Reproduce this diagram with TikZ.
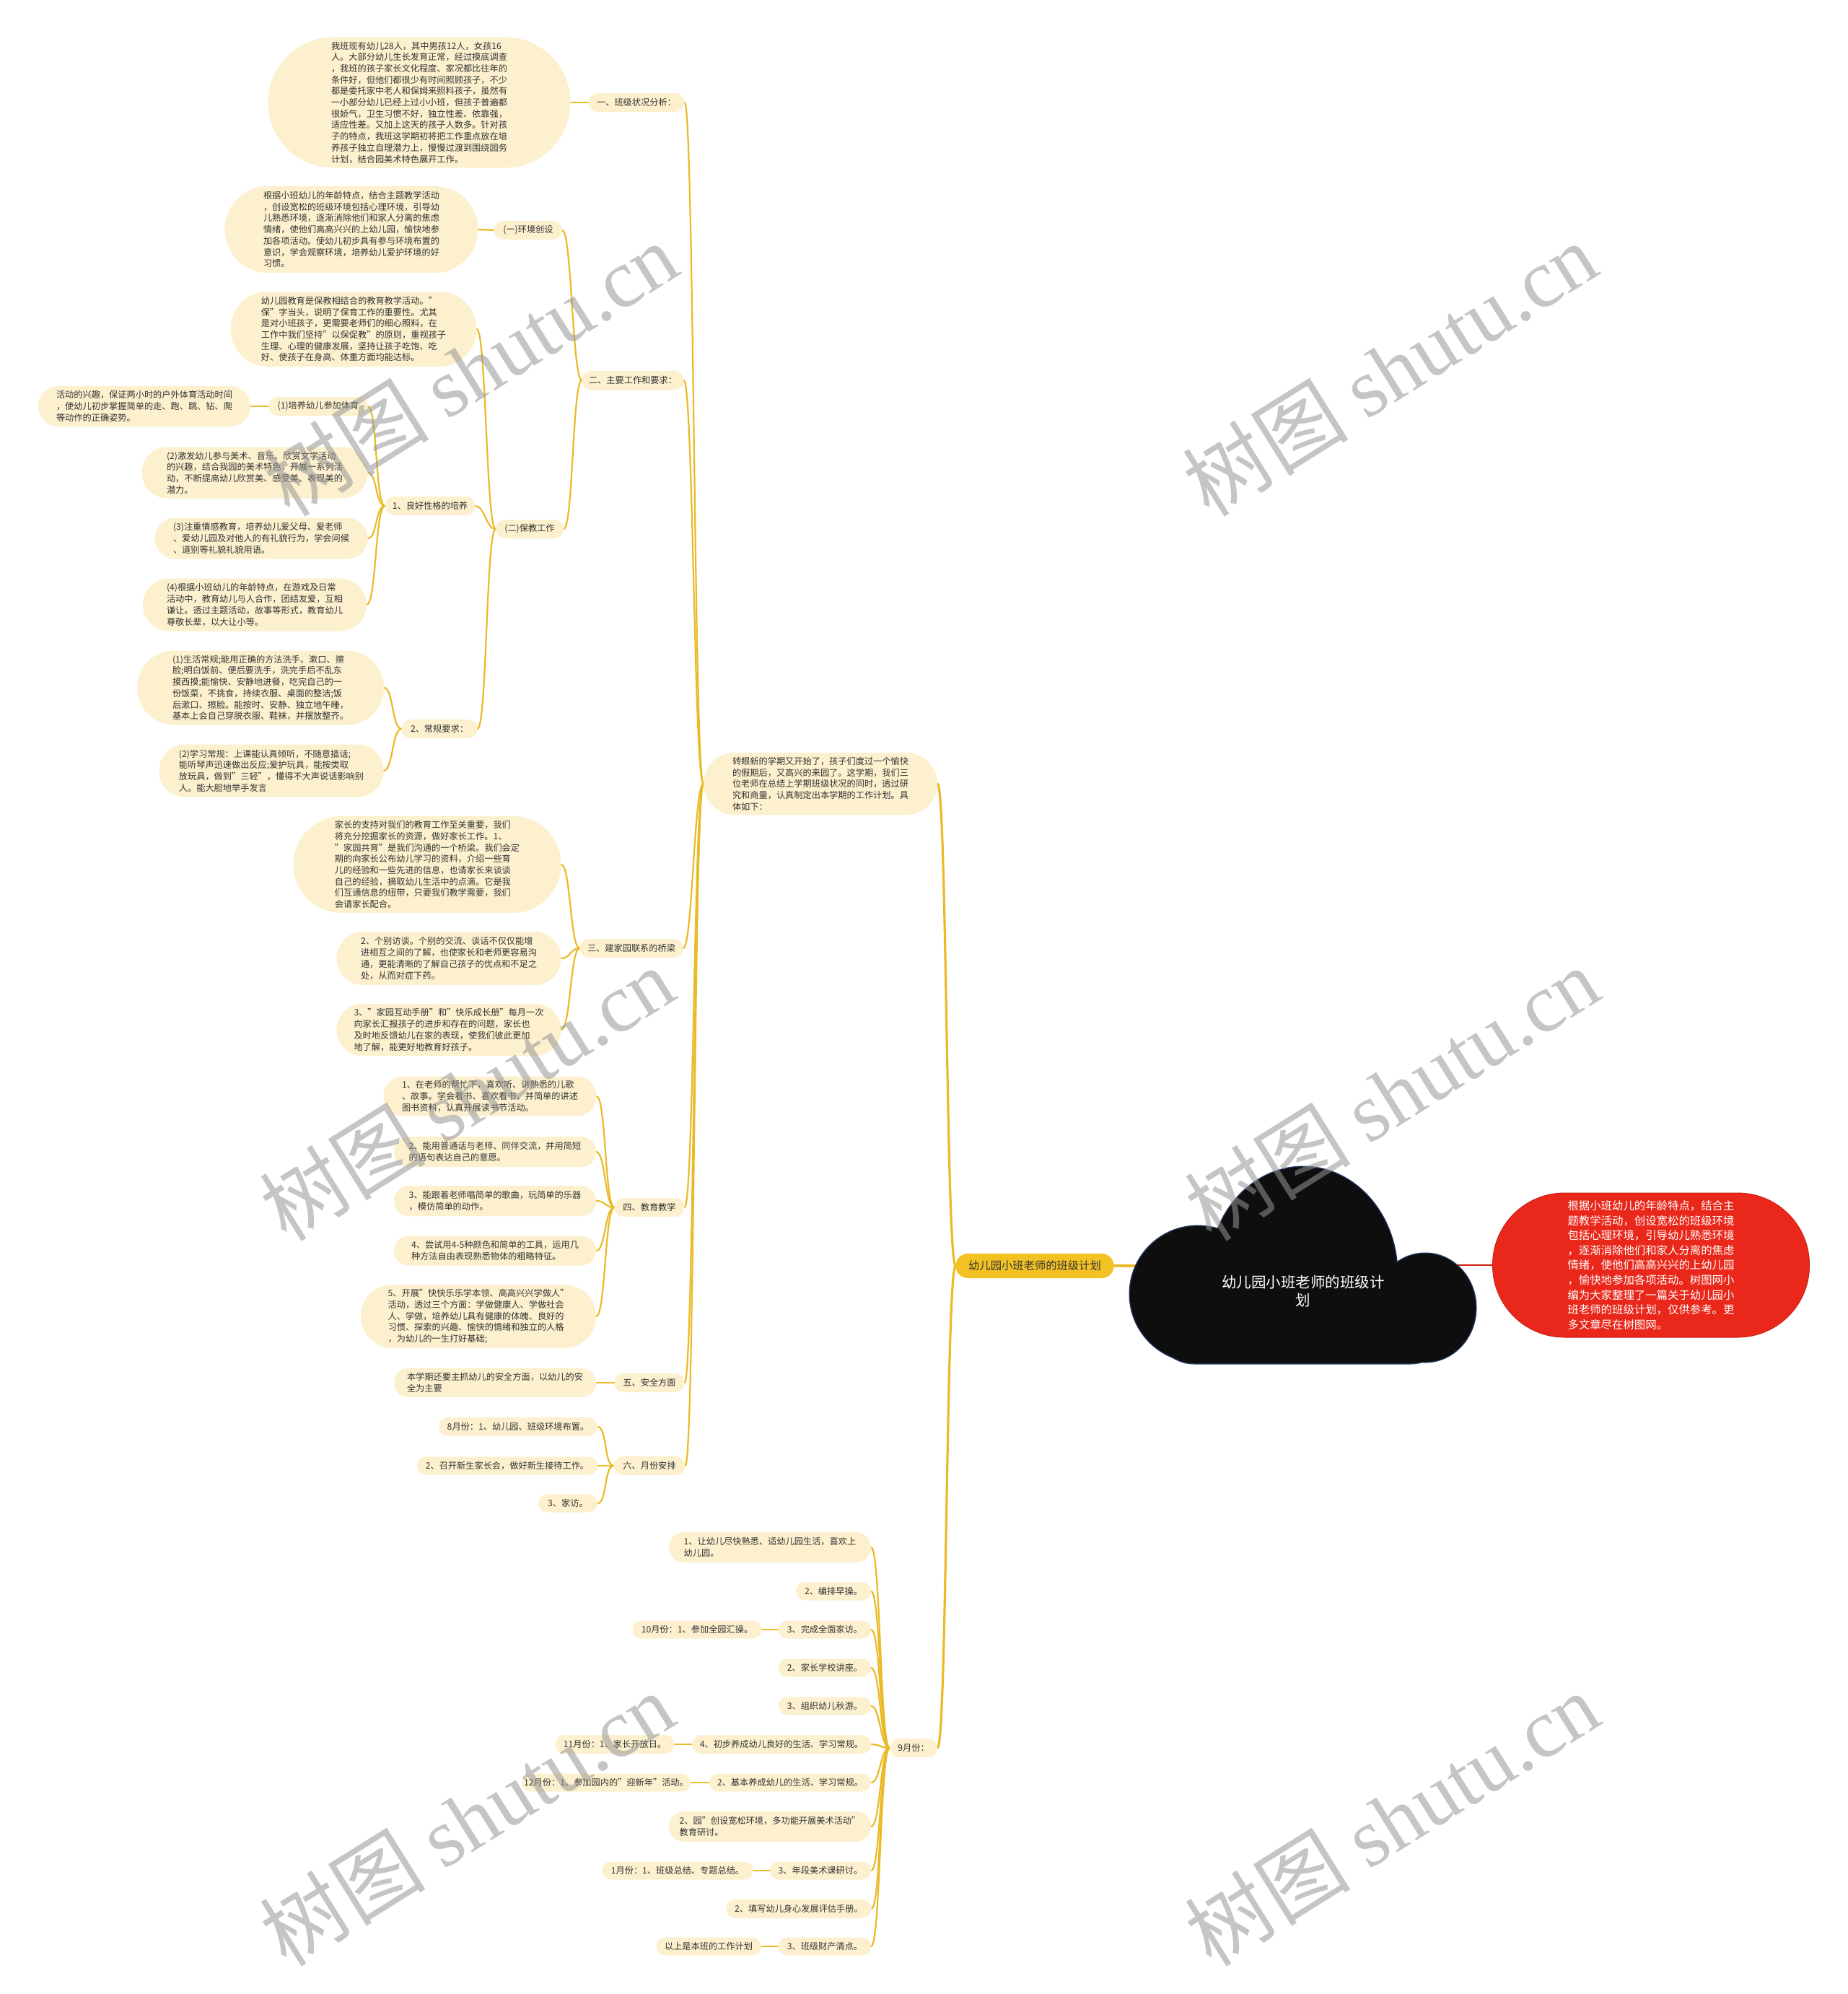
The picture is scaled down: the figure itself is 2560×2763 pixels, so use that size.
\documentclass[tikz,border=0pt]{standalone}
\usepackage{fontspec}
\setmainfont{Noto Sans CJK SC}
\newfontfamily\wmlatin{Liberation Serif}
\usetikzlibrary{calc}
\pgfdeclarelayer{bg}
\pgfsetlayers{bg,main}
\definecolor{cream}{RGB}{252,240,206}
\definecolor{gold}{RGB}{234,186,40}
\definecolor{maingold}{RGB}{242,193,36}
\definecolor{txt}{RGB}{51,51,51}
\definecolor{redn}{RGB}{233,40,27}
\definecolor{reddark}{RGB}{205,32,22}
\definecolor{cloudc}{RGB}{14,14,14}
\definecolor{cloudedge}{RGB}{30,52,92}
\definecolor{wmc}{RGB}{150,150,150}
\tikzset{
  pill/.style 2 args={rectangle, fill=cream, text=txt, minimum width=#1, minimum height=#2,
     rounded corners=#2/2-0.3, inner sep=0pt, align=left, font=\fontsize{12.2}{15.7}\selectfont},
  link/.style={draw=gold, line width=2.2pt, line cap=round},
  trunk/.style={draw=gold, line width=3.2pt, line cap=round},
  wmark/.style={text=wmc, opacity=0.55, inner sep=0pt, font=\fontsize{115}{120}\selectfont},
}
\newcommand\curv[3][link]{\draw[#1] (#2.west) .. controls +(-13,0) and +(13,0) .. (#3.east);}
\newcommand\strt[2]{\draw[link] (#1.west) -- (#2.east);}
\newcommand\cloudshape[1]{%
  \path[#1] (1676,1885) -- (1676,1765) arc[start angle=180, end angle=360, x radius=130, y radius=148] -- (1936,1885) -- cycle;
  \path[#1] (1660,1793) circle[radius=94];
  \path[#1] (1975,1812) ellipse[x radius=70, y radius=75];
  \path[#1, rounded corners=55] (1600,1770) rectangle (2010,1889);
}
\begin{document}
\begin{tikzpicture}[x=1pt,y=-1pt]
\begin{pgfonlayer}{bg}
\fill[white] (0,0) rectangle (2560,2763);
\end{pgfonlayer}
\useasboundingbox (0,0) rectangle (2560,2763);

% ---------- main / root / red ----------
\node[pill={219}{34}, fill=maingold, font=\fontsize{15.3}{18}\selectfont] (main) at (1434,1754) {幼儿园小班老师的班级计划};
\coordinate (cloudin) at (1610,1754);
\coordinate (cloudout) at (2000,1753);
\node[rectangle, fill=redn, draw=reddark, line width=1pt, minimum width=439, minimum height=200,
      rounded corners=99.5, inner sep=0pt, text=white, align=left,
      font=\fontsize{15.4}{20.6}\selectfont] (red) at (2288,1753)
 {根据小班幼儿的年龄特点，结合主\\题教学活动，创设宽松的班级环境\\包括心理环境，引导幼儿熟悉环境\\，逐渐消除他们和家人分离的焦虑\\情绪，使他们高高兴兴的上幼儿园\\，愉快地参加各项活动。树图网小\\编为大家整理了一篇关于幼儿园小\\班老师的班级计划，仅供参考。更\\多文章尽在树图网。};

% ---------- intro ----------
\node[pill={324}{86}] (intro) at (1137,1086) {转眼新的学期又开始了，孩子们度过一个愉快\\的假期后，又高兴的来园了。这学期，我们三\\位老师在总结上学期班级状况的同时，透过研\\究和商量，认真制定出本学期的工作计划。具\\体如下：};

% ---------- section 1 ----------
\node[pill={133}{26}] (s1) at (882,142) {一、班级状况分析：};
\node[pill={419}{181}] (s1p) at (581,142) {我班现有幼儿28人，其中男孩12人，女孩16\\人。大部分幼儿生长发育正常，经过摸底调查\\，我班的孩子家长文化程度、家况都比往年的\\条件好，但他们都很少有时间照顾孩子，不少\\都是委托家中老人和保姆来照料孩子，虽然有\\一小部分幼儿已经上过小小班，但孩子普遍都\\很娇气，卫生习惯不好，独立性差、依靠强，\\适应性差。又加上这天的孩子人数多。针对孩\\子的特点，我班这学期初将把工作重点放在培\\养孩子独立自理潜力上，慢慢过渡到围绕园务\\计划，结合园美术特色展开工作。};

% ---------- section 2 ----------
\node[pill={141}{27}] (s2) at (877,527) {二、主要工作和要求：};
\node[pill={94}{26}] (env) at (732,319) {(一)环境创设};
\node[pill={351}{120}] (envp) at (487,318) {根据小班幼儿的年龄特点，结合主题教学活动\\，创设宽松的班级环境包括心理环境，引导幼\\儿熟悉环境，逐渐消除他们和家人分离的焦虑\\情绪，使他们高高兴兴的上幼儿园，愉快地参\\加各项活动。使幼儿初步具有参与环境布置的\\意识，学会观察环境，培养幼儿爱护环境的好\\习惯。};
\node[pill={94}{26}] (bj) at (734,733) {(二)保教工作};
\node[pill={341}{104}] (bjp) at (490,456) {幼儿园教育是保教相结合的教育教学活动。"\\保"字当头，说明了保育工作的重要性。尤其\\是对小班孩子，更需要老师们的细心照料，在\\工作中我们坚持"以保促教"的原则，重视孩子\\生理、心理的健康发展，坚持让孩子吃饱、吃\\好、使孩子在身高、体重方面均能达标。};
\node[pill={125}{26}] (xg) at (596,701) {1、良好性格的培养};
\node[pill={137}{26}] (ty) at (441,563) {(1)培养幼儿参加体育};
\node[pill={294}{56}] (typ) at (200,563) {活动的兴趣，保证两小时的户外体育活动时间\\，使幼儿初步掌握简单的走、跑、跳、钻、爬\\等动作的正确姿势。};
\node[pill={313}{71}] (x2) at (353,655) {(2)激发幼儿参与美术、音乐、欣赏文学活动\\的兴趣，结合我园的美术特色，开展一系列活\\动，不断提高幼儿欣赏美、感受美、表现美的\\潜力。};
\node[pill={295}{57}] (x3) at (362,746) {(3)注重情感教育，培养幼儿爱父母、爱老师\\、爱幼儿园及对他人的有礼貌行为，学会问候\\、道别等礼貌礼貌用语。};
\node[pill={310}{73}] (x4) at (353,838) {(4)根据小班幼儿的年龄特点，在游戏及日常\\活动中，教育幼儿与人合作，团结友爱，互相\\谦让。透过主题活动，故事等形式，教育幼儿\\尊敬长辈，以大让小等。};
\node[pill={105}{26}] (cg) at (609,1010) {2、常规要求：};
\node[pill={342}{103}] (c1) at (361,953) {(1)生活常规;能用正确的方法洗手、漱口、擦\\脸;明白饭前、便后要洗手，洗完手后不乱东\\摸西摸;能愉快、安静地进餐，吃完自己的一\\份饭菜，不挑食，持续衣服、桌面的整洁;饭\\后漱口、擦脸。能按时、安静、独立地午睡，\\基本上会自己穿脱衣服、鞋袜，并摆放整齐。};
\node[pill={311}{73}] (c2) at (376,1068) {(2)学习常规：上课能认真倾听，不随意插话;\\能听琴声迅速做出反应;爱护玩具，能按类取\\放玩具，做到"三轻"，懂得不大声说话影响别\\人。能大胆地举手发言};

% ---------- section 3 ----------
\node[pill={143}{26}] (s3) at (875,1314) {三、建家园联系的桥梁};
\node[pill={371}{134}] (h1) at (592,1198) {家长的支持对我们的教育工作至关重要，我们\\将充分挖掘家长的资源，做好家长工作。1、\\"家园共育"是我们沟通的一个桥梁。我们会定\\期的向家长公布幼儿学习的资料，介绍一些育\\儿的经验和一些先进的信息，也请家长来谈谈\\自己的经验，摘取幼儿生活中的点滴。它是我\\们互通信息的纽带，只要我们教学需要，我们\\会请家长配合。};
\node[pill={311}{74}] (h2) at (622,1328) {2、个别访谈。个别的交流、谈话不仅仅能增\\进相互之间的了解，也使家长和老师更容易沟\\通，更能清晰的了解自己孩子的优点和不足之\\处，从而对症下药。};
\node[pill={311}{72}] (h3) at (622,1427) {3、"家园互动手册"和"快乐成长册"每月一次\\向家长汇报孩子的进步和存在的问题，家长也\\及时地反馈幼儿在家的表现，使我们彼此更加\\地了解，能更好地教育好孩子。};

% ---------- section 4 ----------
\node[pill={97}{26}] (s4) at (900,1673) {四、教育教学};
\node[pill={295}{55}] (e1) at (679,1519) {1、在老师的帮忙下，喜欢听、讲熟悉的儿歌\\、故事。学会看书、喜欢看书，并简单的讲述\\图书资料，认真开展读书节活动。};
\node[pill={280}{42}] (e2) at (686,1596) {2、能用普通话与老师、同伴交流，并用简短\\的语句表达自己的意愿。};
\node[pill={280}{42}] (e3) at (686,1664) {3、能跟着老师唱简单的歌曲，玩简单的乐器\\，模仿简单的动作。};
\node[pill={280}{41}] (e4) at (686,1733) {4、尝试用4-5种颜色和简单的工具，运用几\\种方法自由表现熟悉物体的粗略特征。};
\node[pill={326}{88}] (e5) at (663,1824) {5、开展"快快乐乐学本领、高高兴兴学做人"\\活动，透过三个方面：学做健康人、学做社会\\人、学做，培养幼儿具有健康的体魄、良好的\\习惯、探索的兴趣、愉快的情绪和独立的人格\\，为幼儿的一生打好基础;};

% ---------- section 5 ----------
\node[pill={97}{26}] (s5) at (900,1916) {五、安全方面};
\node[pill={280}{40}] (aq) at (686,1916) {本学期还要主抓幼儿的安全方面，以幼儿的安\\全为主要};

% ---------- section 6 ----------
\node[pill={99}{26}] (s6) at (900,2031) {六、月份安排};
\node[pill={220}{26}] (m1) at (718,1977) {8月份：1、幼儿园、班级环境布置。};
\node[pill={250}{25}] (m2) at (703,2031) {2、召开新生家长会，做好新生接待工作。};
\node[pill={82}{25}] (m3) at (787,2083) {3、家访。};

% ---------- September ----------
\node[pill={66}{26}] (sep) at (1266,2422) {9月份：};
\node[pill={280}{42}] (n1) at (1067,2144) {1、让幼儿尽快熟悉、适幼儿园生活，喜欢上\\幼儿园。};
\node[pill={104}{25}] (n2) at (1155,2205) {2、编排早操。};
\node[pill={128}{25}] (n3) at (1143,2258) {3、完成全面家访。};
\node[pill={179}{25}] (oct) at (966,2258) {10月份：1、参加全园汇操。};
\node[pill={128}{25}] (n4) at (1143,2311) {2、家长学校讲座。};
\node[pill={128}{25}] (n5) at (1143,2364) {3、组织幼儿秋游。};
\node[pill={248}{26}] (n6) at (1083,2417) {4、初步养成幼儿良好的生活、学习常规。};
\node[pill={165}{26}] (nov) at (852,2417) {11月份：1、家长开放日。};
\node[pill={224}{25}] (n7) at (1095,2470) {2、基本养成幼儿的生活、学习常规。};
\node[pill={234}{25}] (dec) at (840,2470) {12月份：1、参加园内的"迎新年"活动。};
\node[pill={280}{42}] (n8) at (1067,2531) {2、园"创设宽松环境，多功能开展美术活动"\\教育研讨。};
\node[pill={140}{25}] (n9) at (1137,2592) {3、年段美术课研讨。};
\node[pill={209}{25}] (jan) at (939,2592) {1月份：1、班级总结、专题总结。};
\node[pill={201}{26}] (n10) at (1107,2645) {2、填写幼儿身心发展评估手册。};
\node[pill={128}{25}] (n11) at (1143,2697) {3、班级财产清点。};
\node[pill={145}{25}] (fin) at (982,2697) {以上是本班的工作计划};

% ---------- connectors ----------
\begin{pgfonlayer}{bg}
\draw[trunk] (main.east) -- (cloudin);
\draw[draw=reddark, line width=2.2pt] (cloudout) -- (red.west);
\curv[trunk]{main}{intro}
\curv[trunk]{main}{sep}
\foreach \c in {s1,s2,s3,s4,s5,s6} {\curv{intro}{\c}}
\strt{s1}{s1p}
\curv{s2}{env}
\curv{s2}{bj}
\strt{env}{envp}
\curv{bj}{bjp}
\curv{bj}{xg}
\curv{bj}{cg}
\foreach \c in {ty,x2,x3,x4} {\curv{xg}{\c}}
\strt{ty}{typ}
\curv{cg}{c1}
\curv{cg}{c2}
\foreach \c in {h1,h2,h3} {\curv{s3}{\c}}
\foreach \c in {e1,e2,e3,e4,e5} {\curv{s4}{\c}}
\strt{s5}{aq}
\foreach \c in {m1,m2,m3} {\curv{s6}{\c}}
\foreach \c in {n1,n2,n3,n4,n5,n6,n7,n8,n9,n10,n11} {\curv{sep}{\c}}
\strt{n3}{oct}
\strt{n6}{nov}
\strt{n7}{dec}
\strt{n9}{jan}
\strt{n11}{fin}
\end{pgfonlayer}

% ---------- cloud ----------
\cloudshape{draw=cloudedge, line width=3pt}
\cloudshape{fill=cloudc}
\node[text=white, align=center, inner sep=0pt, font=\fontsize{20.5}{25}\selectfont] (root) at (1806,1789) {幼儿园小班老师的班级计\\划};

% ---------- watermarks ----------
\node[wmark, rotate=32] (wm1) at (652,511) {树图 {\wmlatin shutu.cn}};
\node[wmark, rotate=32] (wm2) at (1926,511) {树图 {\wmlatin shutu.cn}};
\node[wmark, rotate=32] (wm3) at (647,1515) {树图 {\wmlatin shutu.cn}};
\node[wmark, rotate=32] (wm4) at (1929,1515) {树图 {\wmlatin shutu.cn}};
\node[wmark, rotate=32] (wm5) at (647,2520) {树图 {\wmlatin shutu.cn}};
\node[wmark, rotate=32] (wm6) at (1929,2520) {树图 {\wmlatin shutu.cn}};
\end{tikzpicture}
\end{document}
